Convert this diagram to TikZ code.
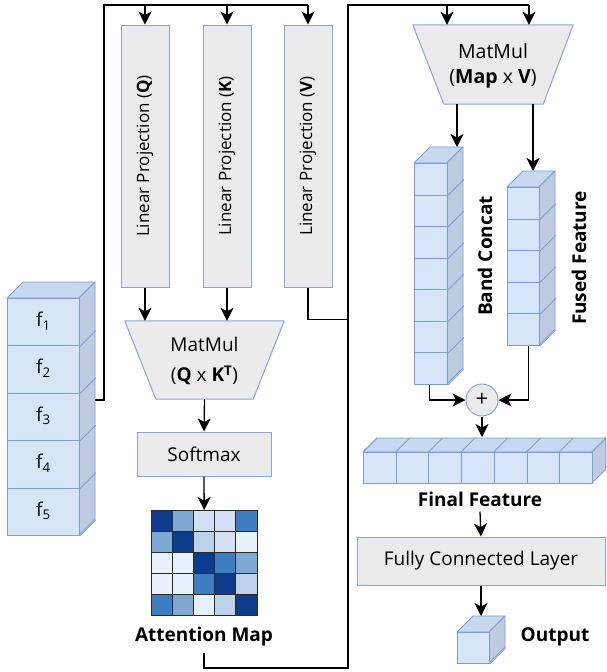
\documentclass[tikz,border=0pt]{standalone}
\usepackage{fontspec}
\setmainfont{Open Sans}
\usetikzlibrary{arrows.meta}
\definecolor{cfront}{HTML}{D6E5F8}
\definecolor{cside}{HTML}{BFCBE0}
\definecolor{ctop}{HTML}{C8D8EF}
\definecolor{cbord}{HTML}{7A9ED6}
\definecolor{boxgray}{HTML}{EBEBEB}
\definecolor{bbord}{HTML}{8BA6CF}
\definecolor{m0}{HTML}{E6F1FB}
\definecolor{m1}{HTML}{D3E0F3}
\definecolor{m2}{HTML}{BDD1EB}
\definecolor{m3}{HTML}{7FA7D3}
\definecolor{m4}{HTML}{3E7DC2}
\definecolor{m5}{HTML}{0E3C8C}
\definecolor{gridc}{HTML}{2A2A2A}
\newcommand{\fs}{\fontsize{19}{22}\selectfont}
\newcommand{\fsr}{\fontsize{17}{20}\selectfont}
\tikzset{
  box/.style={draw=bbord, fill=boxgray, line width=1pt},
  cellf/.style={draw=cbord, fill=cfront, line width=0.9pt, inner sep=0pt, anchor=north west},
  arr/.style={-{Stealth[length=13pt,width=13pt,inset=3.5pt]}, line width=1.3pt},
  ln/.style={line width=1.3pt},
  lbl/.style={font=\fs\bfseries, inner sep=0pt},
  txt/.style={font=\fs, inner sep=0pt}
}
% vertical stack: name, x, ytop(front), w, h, n, depth
\newcommand{\vstack}[7]{%
  \filldraw[fill=ctop,draw=cbord,line width=0.9pt,line join=round] (#2,#3) -- ++(#7,-#7) -- ++(#4,0) -- ++(-#7,#7) -- cycle;
  \filldraw[fill=cside,draw=cbord,line width=0.9pt,line join=round] ({#2+#4},#3) -- ++(#7,-#7) -- ++(0,{#5*#6}) -- ++(-#7,#7) -- cycle;
  \foreach \k in {1,...,#6}{%
    \node[cellf,minimum width=#4,minimum height=#5] (#1\k) at (#2,{#3+#5*(\k-1)}) {};
    \draw[cbord,line width=0.9pt] (#1\k.south east) -- ++(#7,-#7);
  }%
}
% horizontal stack: name, xleft, ytop(front), w, h, n, depth
\newcommand{\hstack}[7]{%
  \filldraw[fill=ctop,draw=cbord,line width=0.9pt,line join=round] (#2,#3) -- ++(#7,-#7) -- ++({#4*#6},0) -- ++(-#7,#7) -- cycle;
  \filldraw[fill=cside,draw=cbord,line width=0.9pt,line join=round] ({#2+#4*#6},#3) -- ++(#7,-#7) -- ++(0,#5) -- ++(-#7,#7) -- cycle;
  \foreach \k in {1,...,#6}{%
    \node[cellf,minimum width=#4,minimum height=#5] (#1\k) at ({#2+#4*(\k-1)},#3) {};
    \draw[cbord,line width=0.9pt] (#1\k.north west) -- ++(#7,-#7);
  }%
}
\begin{document}
\begin{tikzpicture}[x=1pt,y=-1pt]
\useasboundingbox (0,0) rectangle (606,672);

% ---- input stack f1..f5
\vstack{f}{7}{298}{72}{47.4}{5}{16}
\foreach \i in {1,...,5}{\node[txt] at ([yshift=1]f\i) {f\textsubscript{\i}};}
\coordinate (fout) at (95,400);

% ---- linear projections
\node[box, minimum width=48, minimum height=262] (q) at (145,156) {};
\node[box, minimum width=48, minimum height=262] (k) at (227,156) {};
\node[box, minimum width=48, minimum height=262] (v) at (308,156) {};
\node[inner sep=0, font=\fsr, rotate=90] (qt) at (q) {Linear Projection (\textbf{Q})};
\node[inner sep=0, font=\fsr, rotate=90] (kt) at (k) {Linear Projection (\textbf{K})};
\node[inner sep=0, font=\fsr, rotate=90] (vt) at (v) {Linear Projection (\textbf{V})};

% ---- bus lines
\coordinate (busA) at (104,5);
\coordinate (busB) at (348,5);
\coordinate (busBot) at (348,668);
\coordinate (b1) at (447,5);
\coordinate (busC) at (529,5);
\draw[ln] (fout) -| (busA) -- (v.north |- busA);
\foreach \n in {q,k,v}{\draw[arr] (\n.north |- busA) -- (\n.north);}

% ---- MatMul 1
\node[inner sep=0, minimum width=159, minimum height=78] (mm1) at (204.5,360) {};
\draw[box, line join=round] (mm1.north west) -- (mm1.north east) -- ([xshift=-31]mm1.south east) -- ([xshift=31]mm1.south west) -- cycle;
\node[txt, align=center, font=\fontsize{19}{30}\selectfont] (mm1t) at ([yshift=-1]mm1) {MatMul\\(\textbf{Q} x \textbf{K}\textsuperscript{\textbf{T}})};
\draw[arr] (q.south) -- (q.south |- mm1.north);
\draw[arr] (k.south) -- (k.south |- mm1.north);

% ---- Softmax
\node[box, minimum width=134, minimum height=44, txt] (sm) at (204,454) {Softmax};
\draw[arr] (mm1.south) -- (sm.north);

% ---- Attention map
\node[inner sep=0, minimum width=106, minimum height=105, anchor=north west] (amap) at (151,510) {};
\foreach \row [count=\r from 0] in {{5,3,1,1,4},{3,5,2,1,0},{0,0,5,4,3},{0,0,4,5,2},{4,3,0,2,5}}{
  \foreach \vv [count=\c from 0] in \row {
    \filldraw[fill=m\vv, draw=gridc, line width=0.8pt] ({151+21.2*\c},{510+21*\r}) rectangle ++(21.2,21);
  }
}
\draw[arr] (sm.south) -- (amap.north);
\node[lbl] (atl) at (204,637) {Attention Map};

% ---- V and attention map to bus
\draw[ln] (v.south) -- ++(0,32) -| (busB) -- (busC);
\draw[ln] ([yshift=-6]atl.south) |- (busBot) -- (busB);

% ---- MatMul 2
\node[inner sep=0, minimum width=160, minimum height=79] (mm2) at (493,64.5) {};
\draw[box, line join=round] (mm2.north west) -- (mm2.north east) -- ([xshift=-30]mm2.south east) -- ([xshift=31]mm2.south west) -- cycle;
\node[txt, align=center, font=\fontsize{19.5}{25}\selectfont] (mm2t) at ([yshift=-1]mm2) {MatMul\\(\textbf{Map} x \textbf{V})};
\draw[arr] (b1) -- (b1 |- mm2.north);
\draw[arr] (busC) -- (busC |- mm2.north);

% ---- Band concat and fused feature stacks
\vstack{bc}{414}{163}{33}{31.57}{7}{16}
\vstack{ff}{507}{187}{32}{31.6}{5}{16}
\coordinate (bcTop) at (457,147);
\coordinate (ffTop) at (533,171);
\draw[arr] (bcTop |- mm2.south) -- (bcTop);
\draw[arr] (ffTop |- mm2.south) -- (ffTop);
\node[lbl, rotate=90] (bct) at (485,256) {Band Concat};
\node[lbl, rotate=90] (fft) at (579,258) {Fused Feature};

% ---- plus
\node[box, circle, minimum size=32, inner sep=0, font=\fontsize{22}{24}\selectfont] (plus) at (482,400) {+};
\draw[arr] ([xshift=-1.5]bc7.south) |- (plus.west);
\draw[arr] ([xshift=5]ff5.south) |- (plus.east);

% ---- final feature
\hstack{fin}{363}{452}{32.7}{31}{7}{14}
\coordinate (finTop) at (482,437);
\draw[arr] (plus.south) -- (finTop);
\node[lbl] (fint) at (480,499) {Final Feature};

% ---- fully connected
\node[box, minimum width=248, minimum height=48, txt] (fc) at (481,561) {Fully Connected Layer};
\draw[arr] ([yshift=-5]fint.south) -- (fc.north);

% ---- output
\vstack{out}{457}{632}{32}{31}{1}{16}
\coordinate (outTop) at (481,616);
\draw[arr] (fc.south) -- (outTop);
\node[lbl] (outt) at (555,637) {Output};
\end{tikzpicture}
\end{document}
